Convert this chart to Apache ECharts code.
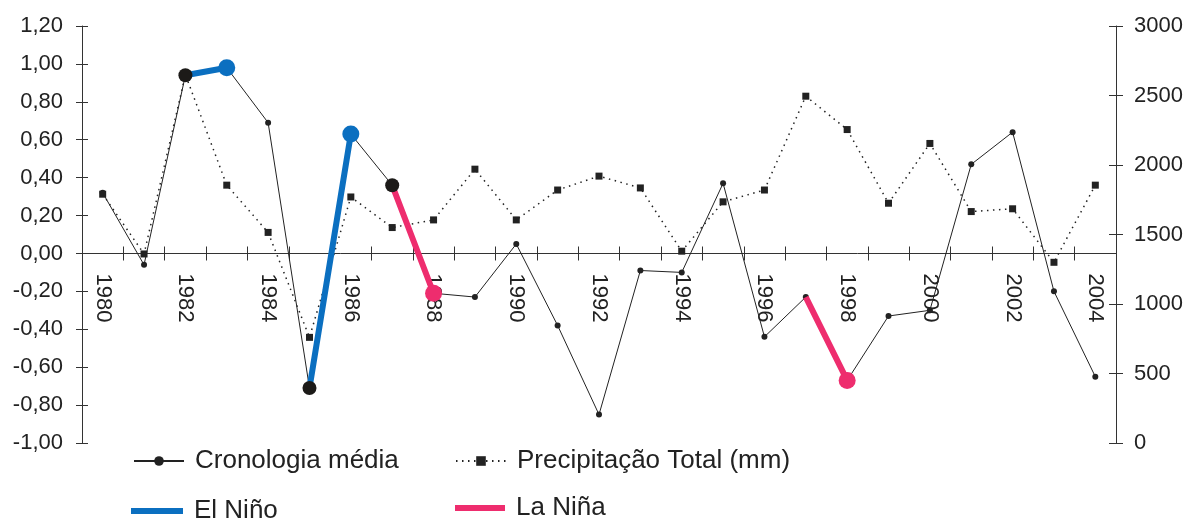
<!DOCTYPE html>
<html>
<head>
<meta charset="utf-8">
<script src="https://cdn.jsdelivr.net/npm/echarts@6/dist/echarts.min.js"></script>
<style>
    html, body { margin: 0; padding: 0; background: #fff; }
    #chart { width: 1190px; height: 522px; }
</style>
</head>
<body>
<div id="chart"></div>
<script>
// anos (eixo x)
const years = ["1980", "1981", "1982", "1983", "1984", "1985", "1986", "1987", "1988", "1989",
    "1990", "1991", "1992", "1993", "1994", "1995", "1996", "1997", "1998", "1999",
    "2000", "2001", "2002", "2003", "2004"];
// cronologia média (eixo esquerdo)
const cronologia = [0.32, -0.06, 0.94, 0.98, 0.69, -0.71, 0.63, 0.36, -0.21, -0.23,
    0.05, -0.38, -0.85, -0.09, -0.10, 0.37, -0.44, -0.23, -0.67, -0.33,
    -0.30, 0.47, 0.64, -0.20, -0.65];
// precipitação total em mm (eixo direito)
const precipitacao = [1790, 1360, 2650, 1855, 1515, 760, 1770, 1550, 1605, 1970,
    1605, 1820, 1920, 1835, 1380, 1735, 1820, 2495, 2255, 1725,
    2155, 1665, 1685, 1300, 1855];
// eventos: pares início/fim
const elNinoYears = ["1982", "1983", "1985", "1986"];
const laNinaYears = ["1987", "1988", "1997", "1998"];
const darkDotYears = ["1982", "1985", "1987"];

const blue = "#0b6fc0";
const pink = "#ee2d6e";
const axisColor = "#333";
const font = "Liberation Sans";
// eixo x desenhado na linha do zero (grid: 26..443, zero a 1,2/2,2 do topo)
const zeroOffset = -189.5;

function eventData(list, color) {
    return years.map((y, i) => {
        const k = list.indexOf(y);
        if (k < 0) return "-";
        if (k % 2 === 0) {
            if (darkDotYears.indexOf(y) >= 0) {
                return { value: cronologia[i], symbolSize: 14, itemStyle: { color: "#1c1a18" } };
            }
            return { value: cronologia[i], symbol: "none" };
        }
        return { value: cronologia[i], symbolSize: 17, itemStyle: { color: color } };
    });
}

const labelStyle = { fontSize: 22, color: "#222", fontFamily: font };
const legendText = { fontSize: 26, color: "#222", fontFamily: font, padding: [0, 0, 0, 6] };

let chart = echarts.init(document.getElementById("chart"));
let option = {
    animation: false,
    grid: { left: 82, right: 74, top: 26, bottom: 79 },
    legend: [
        { data: ["Cronologia média"], left: 133, top: 448, padding: 0, itemWidth: 50, itemHeight: 12, textStyle: legendText },
        { data: ["Precipitação Total (mm)"], left: 455, top: 448, padding: 0, itemWidth: 50, itemHeight: 12, textStyle: legendText },
        { data: [{ name: "El Niño", icon: "rect" }], left: 131, top: 498, padding: 0, itemWidth: 52, itemHeight: 6, textStyle: legendText },
        { data: [{ name: "La Niña", icon: "rect" }], left: 455, top: 495, padding: 0, itemWidth: 50, itemHeight: 6, textStyle: legendText },
    ],
    xAxis: [
        {
            type: "category",
            data: years,
            position: "bottom",
            offset: zeroOffset,
            boundaryGap: true,
            axisLine: { onZero: false, lineStyle: { color: axisColor, width: 1 } },
            axisTick: { show: true, interval: 0, length: 7, lineStyle: { color: axisColor, width: 1 } },
            axisLabel: Object.assign({ interval: 1, rotate: -90, margin: 20 }, labelStyle),
        },
        {
            type: "category",
            data: years,
            position: "bottom",
            offset: zeroOffset,
            boundaryGap: true,
            axisLine: { show: false, onZero: false },
            axisTick: { show: true, inside: true, interval: 0, length: 7, lineStyle: { color: axisColor, width: 1 } },
            axisLabel: { show: false },
        },
    ],
    yAxis: [
        {
            type: "value",
            position: "left",
            min: -1,
            max: 1.2,
            interval: 0.2,
            splitLine: { show: false },
            axisLine: { show: true, lineStyle: { color: axisColor } },
            axisTick: { show: true, length: 6, lineStyle: { color: axisColor } },
            axisLabel: Object.assign({
                margin: 19,
                formatter: (v) => v.toFixed(2).replace(".", ","),
            }, labelStyle),
        },
        {
            type: "value",
            position: "right",
            min: 0,
            max: 3000,
            interval: 500,
            splitLine: { show: false },
            axisLine: { show: true, lineStyle: { color: axisColor } },
            axisTick: { show: true, length: 7, lineStyle: { color: axisColor } },
            axisLabel: Object.assign({ margin: 18, formatter: (v) => String(v) }, labelStyle),
        },
        {
            type: "value",
            position: "left",
            min: -1,
            max: 1.2,
            interval: 0.2,
            splitLine: { show: false },
            axisLine: { show: false },
            axisTick: { show: true, inside: true, length: 6, lineStyle: { color: axisColor } },
            axisLabel: { show: false },
        },
        {
            type: "value",
            position: "right",
            min: 0,
            max: 3000,
            interval: 500,
            splitLine: { show: false },
            axisLine: { show: false },
            axisTick: { show: true, inside: true, length: 7, lineStyle: { color: axisColor } },
            axisLabel: { show: false },
        },
    ],
    series: [
        {
            name: "Precipitação Total (mm)",
            type: "line",
            yAxisIndex: 1,
            z: 2,
            data: precipitacao,
            symbol: "rect",
            symbolSize: 7,
            showAllSymbol: true,
            itemStyle: { color: "#222" },
            lineStyle: { color: "#222", width: 1.5, type: [1.5, 4.5] },
        },
        {
            name: "Cronologia média",
            type: "line",
            yAxisIndex: 0,
            z: 3,
            data: cronologia,
            symbol: "circle",
            symbolSize: 6,
            showAllSymbol: true,
            itemStyle: { color: "#222" },
            lineStyle: { color: "#222", width: 1 },
        },
        {
            name: "El Niño",
            type: "line",
            yAxisIndex: 0,
            z: 4,
            data: eventData(elNinoYears, blue),
            symbol: "circle",
            showAllSymbol: true,
            connectNulls: false,
            itemStyle: { color: blue },
            lineStyle: { color: blue, width: 6 },
        },
        {
            name: "La Niña",
            type: "line",
            yAxisIndex: 0,
            z: 4,
            data: eventData(laNinaYears, pink),
            symbol: "circle",
            showAllSymbol: true,
            connectNulls: false,
            itemStyle: { color: pink },
            lineStyle: { color: pink, width: 6 },
        },
    ],
};
chart.setOption(option);
</script>
</body>
</html>
